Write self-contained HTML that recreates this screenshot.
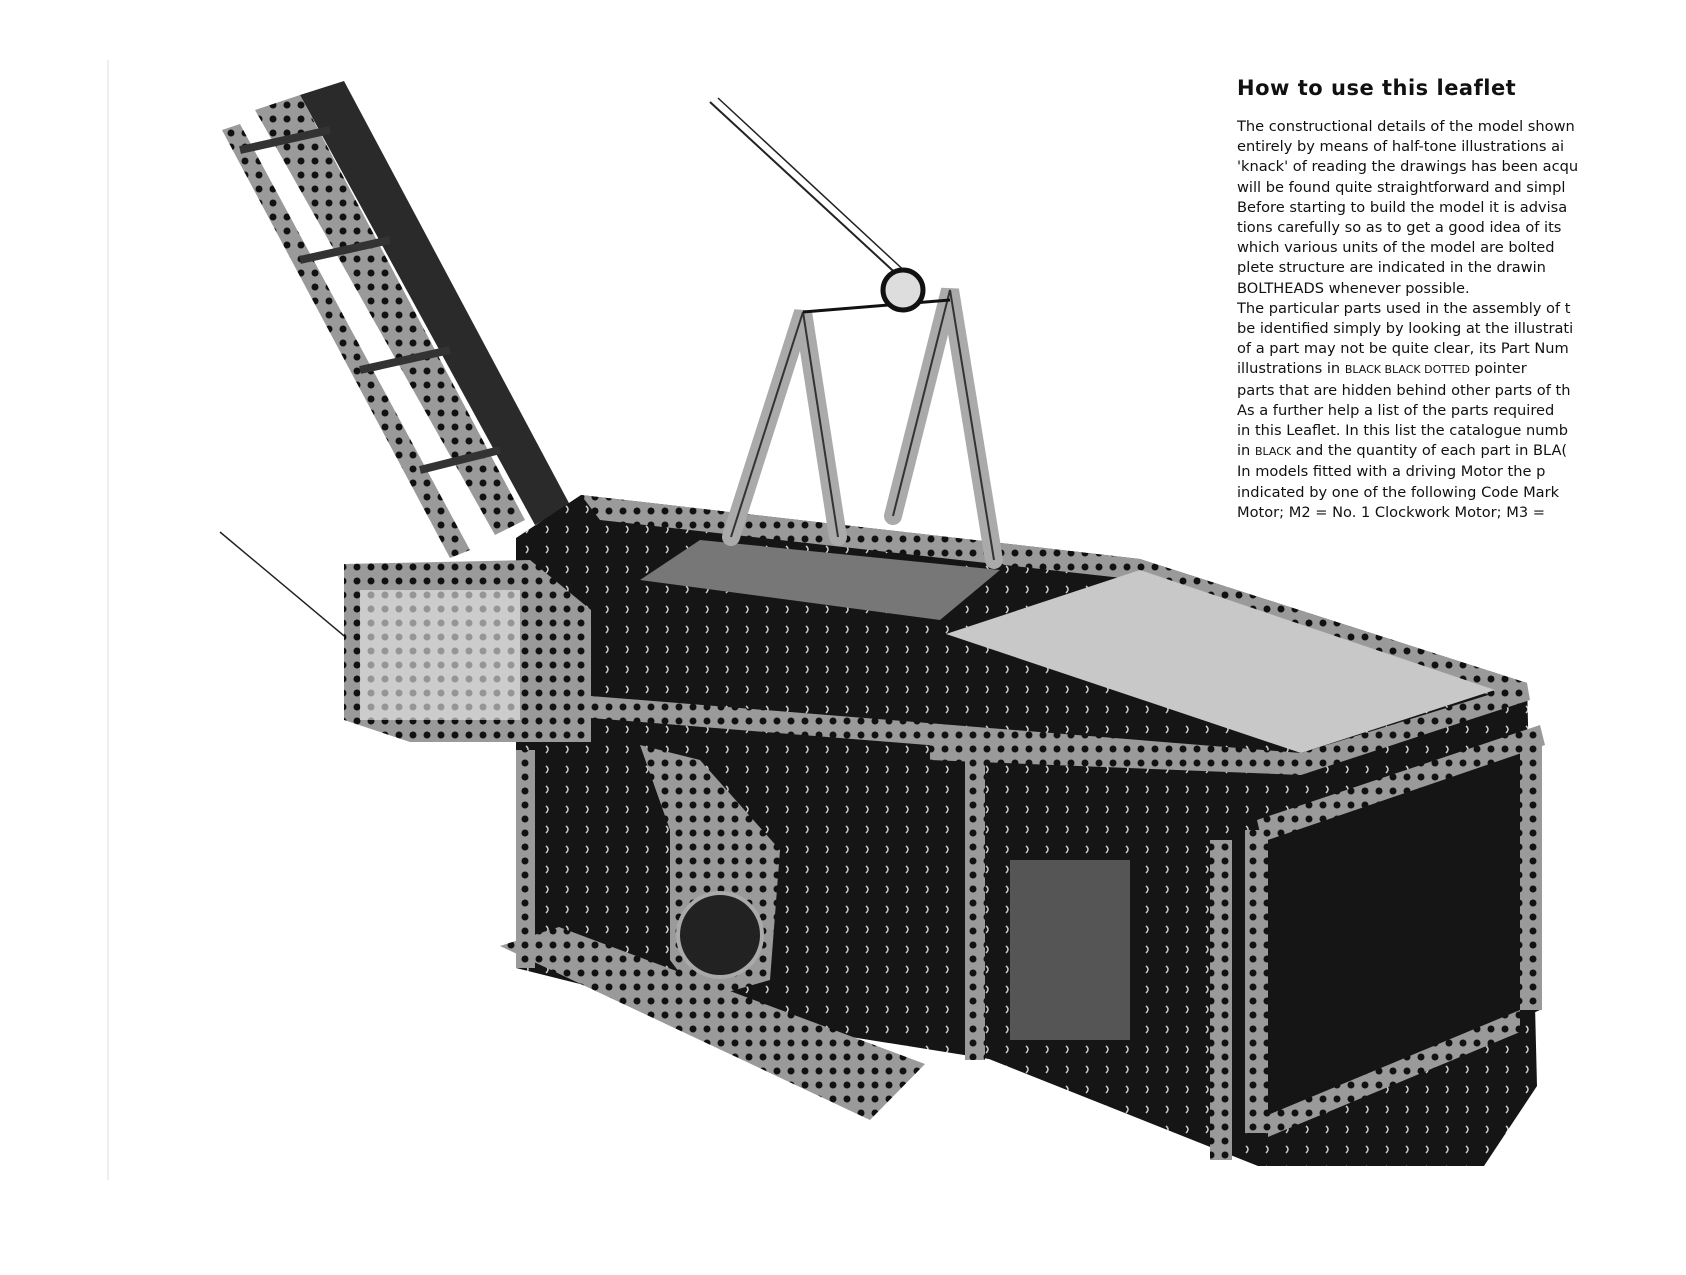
<!DOCTYPE html>
<html><head><meta charset="utf-8"><style>
html,body{margin:0;padding:0;background:#fff;width:1686px;height:1275px;overflow:hidden}
.t{position:absolute;left:1237px;font-family:"DejaVu Sans","Liberation Sans",sans-serif;color:#111;white-space:nowrap;overflow:hidden;width:350px}
</style></head><body>
<svg width="1686" height="1275" style="position:absolute;left:0;top:0">
<defs>
<pattern id="holes" width="14" height="14" patternUnits="userSpaceOnUse"><rect width="14" height="14" fill="#9a9a9a"/><circle cx="7" cy="7" r="3.5" fill="#111"/></pattern>
<pattern id="dk" width="20" height="20" patternUnits="userSpaceOnUse"><rect width="20" height="20" fill="#151515"/><path d="M6 6 q4 3 0 7" stroke="#ccc" stroke-width="1.5" fill="none"/></pattern>
</defs>
<line x1="108" y1="60" x2="108" y2="1180" stroke="#ddd" stroke-width="1"/>
<line x1="710" y1="102" x2="903" y2="280" stroke="#222" stroke-width="2"/>
<line x1="718" y1="98" x2="910" y2="276" stroke="#222" stroke-width="1.5"/>
<line x1="220" y1="532" x2="355" y2="645" stroke="#222" stroke-width="1.5"/>
<!-- boom -->
<polygon points="220,124 344,81 570,505 505,559" fill="#fff"/>
<polygon points="300,95 344,81 570,505 535,525" fill="#2a2a2a"/>
<polygon points="255,110 300,95 525,520 495,535" fill="url(#holes)"/>
<polygon points="222,130 240,124 470,550 450,558" fill="url(#holes)"/>
<g stroke="#333" stroke-width="8"><line x1="240" y1="150" x2="330" y2="130"/><line x1="300" y1="260" x2="390" y2="240"/><line x1="360" y1="370" x2="450" y2="350"/><line x1="420" y1="470" x2="500" y2="450"/></g>
<!-- main body -->
<polygon points="516,538 581,495 1140,559 1527,683 1537,1086 1484,1166 1258,1166 989,1059 688,1011 516,968" fill="url(#dk)"/>
<polygon points="581,495 1140,559 1527,683 1505,700 1140,580 600,520" fill="url(#holes)"/>
<polygon points="946,634 1140,570 1495,690 1301,753" fill="#c8c8c8"/>
<polygon points="700,540 1000,570 940,620 640,580" fill="#777"/>
<polygon points="516,690 1301,753 1301,775 516,712" fill="url(#holes)"/>
<polygon points="930,740 1301,753 1527,683 1530,700 1301,775 930,760" fill="url(#holes)"/>
<!-- front face -->
<polygon points="1257,833 1540,737 1540,1010 1253,1133" fill="#151515"/>
<polygon points="1257,820 1540,725 1545,745 1262,842" fill="url(#holes)"/>
<polygon points="1245,830 1268,830 1268,1133 1245,1133" fill="url(#holes)"/>
<polygon points="1520,735 1542,735 1542,1010 1520,1010" fill="url(#holes)"/>
<polygon points="1268,1115 1520,1010 1520,1032 1268,1137" fill="url(#holes)"/>
<polygon points="1210,840 1232,840 1232,1160 1210,1160" fill="url(#holes)"/>
<polygon points="965,745 985,745 985,1060 965,1060" fill="url(#holes)"/>
<polygon points="516,750 535,750 535,968 516,968" fill="url(#holes)"/>
<rect x="1010" y="860" width="120" height="180" fill="#555"/>
<polygon points="640,745 700,760 780,850 770,980 700,1000 670,960 670,830" fill="url(#holes)"/>
<circle cx="720" cy="935" r="42" fill="#222" stroke="#aaa" stroke-width="4"/>
<!-- left box -->
<polygon points="344,564 530,560 591,610 591,742 410,742 344,720" fill="url(#holes)"/>
<polygon points="360,590 520,590 520,720 360,720" fill="#eee" opacity="0.6"/>
<!-- foot plate -->
<polygon points="500,946 559,927 925,1064 870,1120" fill="url(#holes)"/>
<!-- A frames -->
<g stroke="#aaa" stroke-width="18" fill="none" stroke-linecap="round">
<polyline points="731,537 803,312 838,537"/>
<polyline points="893,516 950,290 994,560"/>
</g>
<g stroke="#333" stroke-width="2" fill="none">
<polyline points="731,537 803,312 838,537"/>
<polyline points="893,516 950,290 994,560"/>
</g>
<line x1="803" y1="312" x2="950" y2="300" stroke="#111" stroke-width="3"/>
<circle cx="903" cy="290" r="20" fill="#ddd" stroke="#111" stroke-width="5"/>
</svg>
<div class="t" style="top:76px;font-size:21px;font-weight:bold;letter-spacing:0.5px">How to use this leaflet</div>
<div class="t" style="top:117px;font-size:14.6px;line-height:20.2px">
The constructional details of the model shown<br>
entirely by means of half-tone illustrations ai<br>
'knack' of reading the drawings has been acqu<br>
will be found quite straightforward and simpl<br>
Before starting to build the model it is advisa<br>
tions carefully so as to get a good idea of its<br>
which various units of the model are bolted<br>
plete structure are indicated in the drawin<br>
BOLTHEADS whenever possible.<br>
The particular parts used in the assembly of t<br>
be identified simply by looking at the illustrati<br>
of a part may not be quite clear, its Part Num<br>
illustrations in <span style="font-size:11px">BLACK BLACK DOTTED</span> pointer<br>
parts that are hidden behind other parts of th<br>
As a further help a list of the parts required<br>
in this Leaflet. In this list the catalogue numb<br>
in <span style="font-size:11px">BLACK</span> and the quantity of each part in BLA(<br>
In models fitted with a driving Motor the p<br>
indicated by one of the following Code Mark<br>
Motor; M2 = No. 1 Clockwork Motor; M3 =
</div>
</body></html>
